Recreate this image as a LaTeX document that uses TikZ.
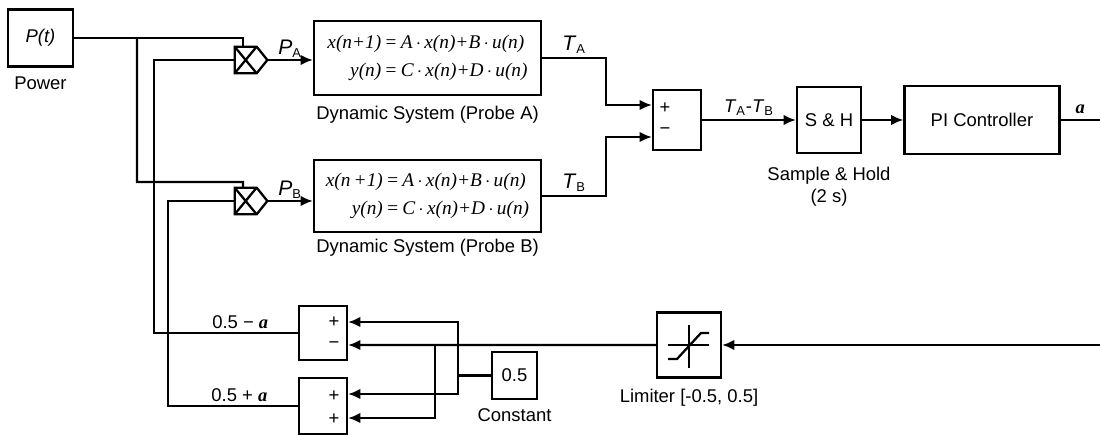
\documentclass[tikz,border=0pt]{standalone}
\usepackage{fontspec}
\setmainfont{Liberation Sans}
\newfontfamily\eqfont{Liberation Serif}
\usetikzlibrary{arrows.meta,positioning,calc}

\newcommand{\alphasig}{{\eqfont\bfseries\itshape a}}

\begin{document}
\begin{tikzpicture}[
    x=0.02cm, y=-0.02cm,
    every node/.style={font=\fontsize{10.5}{12.5}\selectfont},
    block/.style={rectangle, draw=black, line width=1.3pt, inner sep=0pt, align=center},
    sumblock/.style={block, minimum width=0.96cm},
    multnode/.style={rectangle, minimum width=0.64cm, minimum height=0.52cm, inner sep=0pt},
    caption/.style={align=center, inner sep=0pt},
    sign/.style={inner sep=0pt},
    eqn/.style={font=\fontsize{11}{13}\selectfont\eqfont\itshape},
    wire/.style={line width=1.3pt},
    arrow/.style={wire, -{Latex[length=7pt,width=6pt]}}
]
\useasboundingbox (0,0) rectangle (1100,435);

% Source and multipliers
\node[block, minimum width=1.3cm, minimum height=1.14cm] (power) at (40.5,38) {\textit{P(t)}};
\node[caption, below=0.18cm of power] (powerlbl) {Power};

\node[multnode] (mulA) at (251,60) {};
\node[multnode] (mulB) at (251,201) {};
\foreach \m in {mulA,mulB} {
    \draw[wire] (\m.north west) -- ++(22,0) -- (\m.east) -- ($(\m.south west)+(22,0)$) -- (\m.south west) -- cycle;
    \draw[wire] (\m.north west) -- ($(\m.south west)+(22,0)$);
    \draw[wire] (\m.south west) -- ($(\m.north west)+(22,0)$);
}

% Dynamic systems
\node[block, eqn, minimum width=4.54cm, minimum height=1.48cm] (dynA) at (427.5,58) {%
    \begin{tabular}{r@{\,=\,}l}
    x(n+1) & A\,$\cdot$\,x(n)+B\,$\cdot$\,u(n)\\[3pt]
    y(n) & C\,$\cdot$\,x(n)+D\,$\cdot$\,u(n)
    \end{tabular}};
\node[caption, below=0.2cm of dynA] (dynAlbl) {Dynamic System (Probe A)};

\node[block, eqn, minimum width=4.54cm, minimum height=1.44cm] (dynB) at (427.5,196) {%
    \begin{tabular}{r@{\,=\,}l}
    x(n\,+1) & A\,$\cdot$\,x(n)+B\,$\cdot$\,u(n)\\[3pt]
    y(n) & C\,$\cdot$\,x(n)+D\,$\cdot$\,u(n)
    \end{tabular}};
\node[caption, below=0.12cm of dynB] (dynBlbl) {Dynamic System (Probe B)};

% Difference, sample & hold, controller
\node[sumblock, minimum height=1.2cm] (sum) at (677,120) {};
\node[sign] (sumplus) at (665,108) {+};
\node[sign] (summinus) at (665,131) {−};

\node[block, minimum width=1.28cm, minimum height=1.32cm] (sh) at (829,120) {S \& H};
\node[caption, below=0.26cm of sh] (shlbl) {Sample \& Hold\\(2 s)};

\node[block, minimum width=3.1cm, minimum height=1.36cm] (pi) at (982,120) {PI Controller};
\coordinate (aout) at (1100,120);

% Feedback path
\coordinate (fbin) at (1100,345);
\node[block, minimum width=1.28cm, minimum height=1.3cm] (lim) at (689,345) {};
\begin{scope}[shift={(lim.center)}]
    \draw[wire] (0,-20) -- (0,23);
    \draw[wire] (-21,0) -- (20,0);
    \draw[wire] (-21,14) -- (-12,14) -- (12,-12) -- (20,-12);
\end{scope}
\node[caption, below=0.2cm of lim] (limlbl) {Limiter [-0.5, 0.5]};

\node[block, minimum width=0.9cm, minimum height=0.94cm] (const) at (514.5,375.5) {0.5};
\node[caption, below=0.16cm of const] (constlbl) {Constant};

\node[sumblock, minimum height=1.08cm] (sum1) at (323,333) {};
\node[sumblock, minimum height=1.12cm] (sum2) at (323,406) {};
\node[sign] (s1a) at (334,322) {+};
\node[sign] (s1b) at (334,345) {−};
\node[sign] (s2a) at (334,396) {+};
\node[sign] (s2b) at (334,419) {+};

% Power distribution
\coordinate (pj) at (137,38);
\draw[wire] (power.east) -| ([xshift=-0.16cm]mulA.north);
\draw[wire] (pj) |- ++(106,144) -- ([xshift=-0.16cm]mulB.north);

% Probe signals
\draw[arrow] (mulA.east) -- (mulA.east -| dynA.west) node[midway, above, inner sep=1pt] (pAlbl) {{\large\textit{P}}\textsubscript{A}};
\draw[arrow] (mulB.east) -- (mulB.east -| dynB.west) node[midway, above, inner sep=1pt] (pBlbl) {{\large\textit{P}}\textsubscript{B}};
\draw[arrow] (dynA.east) -- ++(64,0) node[midway, above, inner sep=2pt] (tAlbl) {{\large\textit{T}}\textsubscript{A}} |- ([yshift=0.30cm]sum.west);
\draw[arrow] (dynB.east) -- ++(64,0) node[midway, above, inner sep=2pt] (tBlbl) {{\large\textit{T}}\textsubscript{B}} |- ([yshift=-0.34cm]sum.west);
\draw[arrow] (sum.east) -- (sh.west) node[midway, above, inner sep=2pt] (difflbl) {\textit{T}\textsubscript{A}-\textit{T}\textsubscript{B}};
\draw[arrow] (sh.east) -- (pi.west);
\draw[wire] (pi.east) -- (aout) node[midway, above, inner sep=3pt] (alpha) {\alphasig};

% Weights
\draw[arrow] (fbin) -- (lim.east);
\draw[arrow] (lim.west) -- ([yshift=-0.24cm]sum1.east);
\coordinate (lj) at (435,345);
\draw[arrow] (lj) |- ([yshift=-0.24cm]sum2.east);
\draw[wire] (const.west) -- ++(-33,0) coordinate (cj);
\draw[arrow] (cj) |- ([yshift=0.22cm]sum1.east);
\draw[arrow] (cj) |- ([yshift=0.24cm]sum2.east);

\draw[wire] (sum1.west) -- ++(-144,0) node[pos=0.4, above, inner sep=2pt] (wAlbl) {0.5 − \alphasig} |- (mulA.west);
\draw[wire] (sum2.west) -- ++(-130,0) node[pos=0.45, above, inner sep=2pt] (wBlbl) {0.5 + \alphasig} |- (mulB.west);

\end{tikzpicture}
\end{document}
